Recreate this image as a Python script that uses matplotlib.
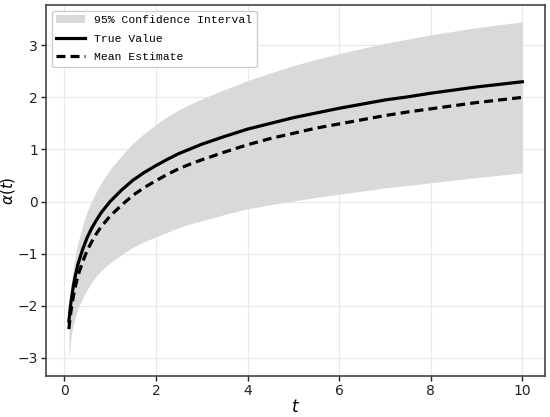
import matplotlib
matplotlib.use("Agg")
import matplotlib.pyplot as plt

# values
t = [0.1, 0.12, 0.15, 0.2, 0.25, 0.3, 0.4, 0.5, 0.6, 0.7, 0.8, 1.0, 1.25,
     1.5, 1.75, 2.0, 2.25, 2.5, 2.75, 3.0, 3.5, 4.0, 4.5, 5.0, 5.5, 6.0,
     6.5, 7.0, 7.5, 8.0, 9.0, 10.0]
true_value = [-2.30, -2.12, -1.90, -1.61, -1.39, -1.20, -0.92, -0.69, -0.51,
              -0.36, -0.22, 0.00, 0.22, 0.41, 0.56, 0.69, 0.81, 0.92, 1.01,
              1.10, 1.25, 1.39, 1.50, 1.61, 1.70, 1.79, 1.87, 1.95, 2.01,
              2.08, 2.20, 2.30]
mean_est = [-2.45, -2.28, -2.08, -1.81, -1.60, -1.42, -1.16, -0.94, -0.77,
            -0.62, -0.49, -0.28, -0.07, 0.12, 0.27, 0.40, 0.52, 0.63, 0.72,
            0.80, 0.95, 1.09, 1.21, 1.31, 1.41, 1.49, 1.57, 1.65, 1.72,
            1.78, 1.90, 2.00]
ci_upper = [-2.15, -1.92, -1.58, -1.26, -1.00, -0.79, -0.46, -0.19, 0.01,
            0.19, 0.35, 0.62, 0.88, 1.12, 1.31, 1.48, 1.63, 1.76, 1.87,
            1.97, 2.15, 2.32, 2.47, 2.61, 2.73, 2.84, 2.94, 3.04, 3.12,
            3.20, 3.34, 3.45]
ci_lower = [-3.03, -2.85, -2.58, -2.36, -2.20, -2.05, -1.86, -1.69, -1.55,
            -1.43, -1.33, -1.18, -1.02, -0.88, -0.77, -0.68, -0.59, -0.50,
            -0.43, -0.37, -0.25, -0.14, -0.06, 0.01, 0.08, 0.14, 0.20, 0.26,
            0.31, 0.36, 0.46, 0.55]

fig = plt.figure(figsize=(5.5, 4.17), dpi=100)
ax = fig.add_axes([0.084, 0.098, 0.907, 0.89])

ax.fill_between(t, ci_lower, ci_upper, color='#d9d9d9', linewidth=0,
                label='95% Confidence Interval')
ax.plot(t, true_value, color='black', linewidth=2.3, label='True Value')
ax.plot(t, mean_est, color='black', linewidth=2.3, linestyle=(0, (2.8, 1.6)),
        label='Mean Estimate')

ax.set_xlabel(r'$t$', fontsize=12, labelpad=0)
ax.set_ylabel(r'$\alpha(t)$', fontsize=11)
ax.yaxis.set_label_coords(-0.058, 0.5)
ax.set_xticks([0, 2, 4, 6, 8, 10])
ax.set_yticks([-3, -2, -1, 0, 1, 2, 3])
ax.tick_params(labelsize=10, colors='#222222', width=1, length=3.5, pad=2.5)
ax.grid(True, color='#e8e8e8', linewidth=0.8)
ax.set_axisbelow(True)
for s in ax.spines.values():
    s.set_color('#444444')
    s.set_linewidth(1.2)

ax.legend(loc='upper left', prop={'family': 'Liberation Mono', 'size': 8.2},
          frameon=True, edgecolor='#cccccc', fancybox=True, framealpha=1,
          handlelength=2.5, handletextpad=0.8, labelspacing=0.75)

fig.savefig('out.png', dpi=100)
